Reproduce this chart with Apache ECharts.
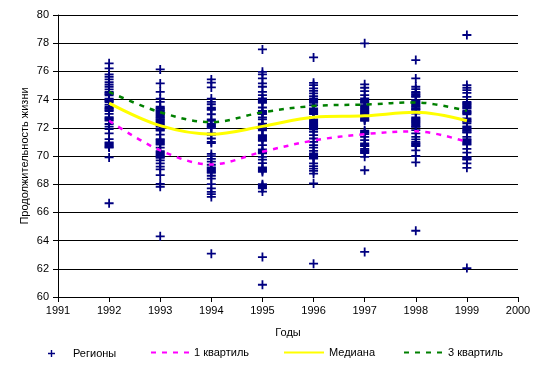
<!DOCTYPE html>
<html><head><meta charset="utf-8">
<script src="https://cdn.jsdelivr.net/npm/echarts@6/dist/echarts.min.js"></script>
<style>html,body{margin:0;padding:0;background:#fff}#c{width:538px;height:367px}</style>
</head><body><div id="c"></div>
<script>
var years = [1992, 1993, 1994, 1995, 1996, 1997, 1998, 1999];
var reg1992 = [76.57, 76.22, 75.79, 75.62, 75.43, 75.24, 75.07, 74.91, 74.72, 74.55, 74.47, 74.39, 74.31, 74.07, 73.99, 73.91, 73.83, 73.64, 73.5, 73.42, 73.34, 73.26, 73.18, 72.99, 72.75, 72.67, 72.59, 72.51, 72.27, 72.08, 71.9, 71.6, 71.2, 70.97, 70.89, 70.81, 70.73, 70.65, 70.6, 69.9, 66.65];
var reg1993 = [76.14, 75.15, 74.55, 74.07, 73.84, 73.5, 73.42, 73.34, 73.26, 73.18, 73.1, 73.02, 72.94, 72.86, 72.78, 72.7, 72.62, 72.54, 72.46, 72.38, 72.3, 72.22, 72.1, 71.95, 71.87, 71.8, 71.52, 71.2, 71.12, 71.04, 70.96, 70.88, 70.8, 70.6, 70.34, 70.26, 70.18, 70.1, 70.02, 69.94, 69.86, 69.69, 69.47, 69.24, 69.05, 68.64, 68.03, 67.82, 64.3];
var reg1994 = [75.43, 75.2, 74.86, 74.07, 73.84, 73.67, 73.43, 73.35, 73.27, 72.96, 72.6, 72.5, 72.3, 72.22, 72.14, 72.06, 71.98, 71.6, 71.5, 71.24, 71.0, 70.92, 70.15, 69.99, 69.8, 69.6, 69.38, 69.2, 69.12, 69.04, 68.96, 68.88, 68.8, 68.6, 68.4, 68.0, 67.7, 67.46, 67.3, 67.1, 63.07];
var reg1995 = [77.56, 75.97, 75.79, 75.5, 75.15, 74.91, 74.55, 74.32, 74.08, 74.0, 73.92, 73.84, 73.77, 73.44, 73.2, 73.12, 73.04, 72.97, 72.73, 72.6, 72.3, 72.22, 72.14, 72.06, 71.98, 71.9, 71.82, 71.48, 71.4, 71.32, 71.24, 71.16, 71.07, 70.77, 70.46, 70.38, 70.3, 70.22, 70.18, 69.94, 69.74, 69.5, 69.2, 69.12, 69.04, 68.96, 68.87, 68.0, 67.92, 67.84, 67.76, 67.7, 67.48, 62.83, 60.87];
var reg1996 = [76.99, 75.19, 75.03, 74.79, 74.62, 74.44, 74.25, 74.08, 74.0, 73.92, 73.84, 73.77, 73.6, 73.37, 73.29, 73.21, 73.13, 73.05, 72.97, 72.78, 72.6, 72.52, 72.44, 72.36, 72.28, 72.2, 72.12, 72.04, 71.96, 71.88, 71.71, 71.48, 71.24, 71.0, 70.77, 70.6, 70.37, 70.18, 70.1, 70.02, 69.94, 69.86, 69.82, 69.47, 69.28, 69.1, 68.94, 68.75, 68.05, 62.36];
var reg1997 = [77.99, 75.08, 74.84, 74.6, 74.32, 74.08, 74.0, 73.92, 73.84, 73.77, 73.6, 73.52, 73.44, 73.36, 73.28, 73.2, 73.12, 73.04, 72.96, 72.88, 72.8, 72.72, 72.64, 72.56, 72.5, 71.8, 71.72, 71.64, 71.55, 71.36, 71.12, 70.9, 70.82, 70.74, 70.7, 70.5, 70.42, 70.34, 70.26, 70.2, 69.94, 68.99, 63.2];
var reg1998 = [76.8, 75.5, 74.91, 74.75, 74.55, 74.47, 74.39, 74.31, 74.23, 74.2, 73.96, 73.88, 73.8, 73.72, 73.64, 73.56, 73.48, 73.4, 73.32, 73.27, 73.0, 72.73, 72.65, 72.57, 72.49, 72.41, 72.33, 72.25, 72.17, 72.09, 72.06, 71.83, 71.6, 71.36, 71.18, 71.0, 70.92, 70.84, 70.76, 70.7, 70.4, 70.0, 69.55, 64.7];
var reg1999 = [78.58, 75.03, 74.84, 74.67, 74.48, 74.2, 73.84, 73.76, 73.68, 73.6, 73.52, 73.44, 73.37, 73.2, 73.12, 73.04, 72.96, 72.66, 72.58, 72.5, 72.42, 72.32, 72.1, 72.02, 71.94, 71.86, 71.78, 71.7, 71.66, 71.36, 71.2, 71.12, 71.04, 70.96, 70.88, 70.8, 70.5, 70.24, 69.94, 69.86, 69.78, 69.74, 69.47, 69.16, 62.05];
var quartile1 = [72.5, 70.4, 69.4, 70.3, 71.1, 71.55, 71.75, 71.0];
var median = [73.75, 72.15, 71.55, 72.1, 72.75, 72.85, 73.1, 72.5];
var quartile3 = [74.55, 73.1, 72.4, 73.1, 73.55, 73.65, 73.8, 73.2];
var yTicks = [60, 62, 64, 66, 68, 70, 72, 74, 76, 78, 80];

var regionLists = [reg1992, reg1993, reg1994, reg1995, reg1996, reg1997, reg1998, reg1999];
var scatterData = [];
regionLists.forEach(function (list, i) {
  list.forEach(function (v) { scatterData.push([years[i], v]); });
});
function pairs(arr) { return arr.map(function (v, i) { return [years[i], v]; }); }

var plus = 'path://M-1,-0.2H1V0.2H-1Z M-0.2,-1H0.2V1H-0.2Z';
var FONT = 'Liberation Sans';
var chart = echarts.init(document.getElementById('c'), null, {renderer: 'canvas'});
var legendText = {fontFamily: FONT, fontSize: 11, color: '#000'};
var legendBase = {orient: 'horizontal', top: 347, padding: 0, itemHeight: 14,
  textStyle: legendText, selectedMode: false, itemStyle: {opacity: 0}};
chart.setOption({
  animation: false,
  textStyle: {fontFamily: FONT},
  grid: {left: 58, right: 20, top: 15, bottom: 70, containLabel: false},
  xAxis: {
    type: 'value', min: 1991, max: 2000, interval: 1,
    name: 'Годы', nameLocation: 'middle', nameGap: 30, nameMoveOverlap: false,
    nameTextStyle: {fontFamily: FONT, fontSize: 11, color: '#000'},
    axisLine: {show: true, lineStyle: {color: '#000', width: 1}},
    axisTick: {show: true, length: 5, lineStyle: {color: '#000'}},
    axisLabel: {fontFamily: FONT, fontSize: 11, color: '#000', margin: 8,
      formatter: function (v) { return String(v); }},
    splitLine: {show: false}
  },
  yAxis: {
    type: 'value', min: yTicks[0], max: yTicks[yTicks.length - 1], interval: 2,
    name: 'Продолжительность жизни', nameLocation: 'middle', nameGap: 28, nameRotate: 90,
    nameMoveOverlap: false,
    nameTextStyle: {fontFamily: FONT, fontSize: 11, color: '#000'},
    axisLine: {show: true, lineStyle: {color: '#000', width: 1}},
    axisTick: {show: true, length: 5, lineStyle: {color: '#000'}},
    axisLabel: {fontFamily: FONT, fontSize: 11, color: '#000', margin: 9},
    splitLine: {show: true, lineStyle: {color: '#000', width: 1}}
  },
  legend: [
    {orient: 'horizontal', top: 348, left: 48, padding: 0, itemWidth: 7, itemHeight: 7, selectedMode: false,
      data: [{name: 'Регионы', icon: plus}],
      textStyle: {fontFamily: FONT, fontSize: 11, color: '#000', padding: [0, 0, 0, 13]}},
    Object.assign({}, legendBase, {left: 150, itemWidth: 38, data: ['1 квартиль']}),
    Object.assign({}, legendBase, {left: 283, itemWidth: 40, data: ['Медиана']}),
    Object.assign({}, legendBase, {left: 403, itemWidth: 39, data: ['3 квартиль']})
  ],
  series: [
    {name: 'Регионы', type: 'scatter', data: scatterData, symbol: plus, symbolSize: 9,
      itemStyle: {color: '#000080', opacity: 1}, z: 2},
    {name: '1 квартиль', type: 'line', data: pairs(quartile1), smooth: 0.35, symbol: 'none',
      lineStyle: {color: '#FF00FF', width: 2.5, type: [5, 6]}, itemStyle: {color: '#FF00FF'}, z: 3},
    {name: 'Медиана', type: 'line', data: pairs(median), smooth: 0.35, symbol: 'none',
      lineStyle: {color: '#FFFF00', width: 3}, itemStyle: {color: '#FFFF00'}, z: 3},
    {name: '3 квартиль', type: 'line', data: pairs(quartile3), smooth: 0.35, symbol: 'none',
      lineStyle: {color: '#008000', width: 2.5, type: [5, 6]}, itemStyle: {color: '#008000'}, z: 3}
  ]
});
</script></body></html>
